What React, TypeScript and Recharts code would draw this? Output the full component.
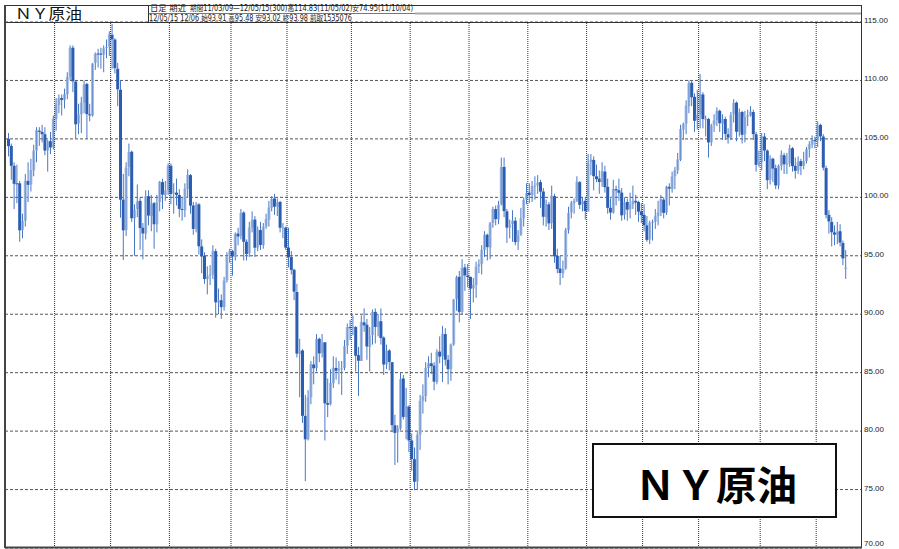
import React from "react";
import {
  ComposedChart,
  Bar,
  XAxis,
  YAxis,
  CartesianGrid,
  ReferenceLine,
} from "recharts";

// [day, open, high, low, close] per trading day
type Row = [number, number, number, number, number];

const mar2011: Row[] = [
  [9, 105.0, 105.5, 103.5, 104.38], [10, 104.4, 104.6, 101.5, 102.7], [11, 102.7, 103.0, 99.0, 101.16],
  [14, 101.2, 102.8, 99.5, 101.19], [15, 101.2, 101.4, 96.2, 97.18], [16, 97.2, 98.6, 96.5, 97.98],
  [17, 98.0, 102.0, 97.5, 101.42], [18, 101.4, 103.0, 99.6, 101.07], [21, 101.1, 103.3, 100.5, 102.33],
  [22, 102.3, 104.5, 101.8, 104.0], [23, 104.0, 106.0, 103.0, 105.75], [24, 105.7, 106.0, 104.4, 105.6],
  [25, 105.6, 106.2, 104.7, 105.4], [28, 105.4, 106.0, 103.6, 104.0], [29, 104.0, 104.9, 102.2, 104.79],
  [30, 104.8, 105.6, 103.7, 104.27], [31, 104.3, 107.0, 104.1, 106.72],
];
const apr2011: Row[] = [
  [1, 106.7, 108.5, 105.7, 107.94], [4, 107.9, 108.8, 107.2, 108.47], [5, 108.5, 108.8, 107.0, 108.34],
  [6, 108.3, 109.3, 107.6, 108.83], [7, 108.8, 110.7, 108.4, 110.3], [8, 110.3, 113.0, 110.0, 112.79],
  [11, 112.8, 113.0, 109.0, 109.92], [12, 109.9, 110.0, 105.0, 106.25], [13, 106.3, 108.0, 105.4, 107.11],
  [14, 107.1, 108.6, 105.5, 108.11], [15, 108.1, 110.0, 107.2, 109.66], [18, 109.7, 109.8, 105.0, 107.12],
  [19, 107.1, 108.0, 106.5, 107.03], [20, 107.0, 111.5, 106.9, 111.45], [21, 111.5, 112.4, 110.9, 112.29],
  [25, 112.3, 112.7, 111.1, 112.28], [26, 112.3, 112.8, 111.0, 112.21], [27, 112.2, 113.0, 110.7, 112.76],
  [28, 112.8, 113.5, 111.9, 112.86], [29, 112.9, 114.2, 112.1, 113.93],
];
const may2011: Row[] = [
  [2, 113.9, 114.83, 111.0, 113.52], [3, 113.5, 113.6, 110.6, 111.05], [4, 111.0, 111.5, 107.8, 109.24],
  [5, 109.2, 110.0, 98.25, 99.8], [6, 99.8, 102.0, 94.63, 97.18], [9, 97.2, 103.0, 96.7, 102.55],
  [10, 102.6, 104.6, 101.8, 103.88], [11, 103.9, 104.0, 97.9, 98.21], [12, 98.2, 99.4, 95.0, 98.97],
  [13, 99.0, 101.1, 98.3, 99.65], [16, 99.7, 100.0, 95.5, 97.37], [17, 97.4, 97.8, 94.7, 96.91],
  [18, 96.9, 100.6, 96.4, 100.1], [19, 100.1, 100.6, 97.6, 98.44], [20, 98.4, 100.2, 97.1, 99.49],
  [23, 99.5, 99.6, 95.6, 97.7], [24, 97.7, 100.2, 97.0, 99.59], [25, 99.6, 101.4, 98.8, 101.32],
  [26, 101.3, 101.6, 99.0, 100.23], [27, 100.2, 101.4, 99.7, 100.59], [31, 100.6, 102.9, 100.2, 102.7],
];
const jun2011: Row[] = [
  [1, 102.7, 102.9, 99.4, 100.29], [2, 100.3, 101.2, 98.6, 100.4], [3, 100.4, 101.6, 99.3, 100.22],
  [6, 100.2, 100.7, 98.3, 99.01], [7, 99.0, 100.0, 98.0, 98.94], [8, 98.9, 101.2, 98.3, 100.74],
  [9, 100.7, 102.4, 100.0, 101.93], [10, 101.9, 102.0, 98.6, 99.29], [13, 99.3, 99.6, 96.8, 97.3],
  [14, 97.3, 99.6, 97.0, 99.37], [15, 99.4, 99.5, 95.1, 95.81], [16, 95.8, 96.4, 93.5, 94.95],
  [17, 95.0, 95.3, 92.6, 93.01], [20, 93.0, 94.1, 91.7, 93.26], [21, 93.3, 94.2, 92.5, 93.4],
  [22, 93.4, 95.9, 93.0, 95.41], [23, 95.4, 95.6, 89.7, 91.02], [24, 91.0, 92.2, 90.0, 91.16],
  [27, 91.2, 91.7, 89.6, 90.61], [28, 90.6, 93.2, 90.3, 92.89], [29, 92.9, 95.3, 92.7, 94.96],
  [30, 95.0, 95.6, 94.4, 95.42],
];
const jul2011: Row[] = [
  [1, 95.4, 95.5, 93.3, 94.94], [5, 94.9, 97.0, 94.6, 96.89], [6, 96.9, 97.4, 95.9, 96.65],
  [7, 96.7, 99.0, 96.4, 98.67], [8, 98.7, 98.8, 94.6, 96.2], [11, 96.2, 96.4, 94.6, 95.15],
  [12, 95.2, 97.9, 94.9, 97.43], [13, 97.4, 98.8, 97.0, 98.05], [14, 98.1, 98.4, 94.9, 95.69],
  [15, 95.7, 97.5, 95.4, 97.24], [18, 97.2, 97.9, 95.5, 95.93], [19, 95.9, 97.8, 95.6, 97.5],
  [20, 97.5, 98.6, 97.3, 98.14], [21, 98.1, 99.7, 97.5, 99.13], [22, 99.1, 100.1, 98.8, 99.87],
  [25, 99.9, 100.3, 98.5, 99.2], [26, 99.2, 99.9, 98.4, 99.59], [27, 99.6, 99.7, 97.0, 97.4],
  [28, 97.4, 97.8, 96.5, 97.44], [29, 97.4, 97.5, 95.5, 95.7],
];
const aug2011: Row[] = [
  [1, 95.7, 97.4, 94.0, 94.89], [2, 94.9, 95.4, 93.4, 93.79], [3, 93.8, 93.9, 91.2, 91.93],
  [4, 91.9, 92.6, 86.3, 86.63], [5, 86.6, 87.9, 82.9, 86.88], [8, 86.9, 87.0, 80.7, 81.31],
  [9, 81.3, 83.1, 75.71, 79.3], [10, 79.3, 83.5, 79.2, 82.89], [11, 82.9, 86.0, 82.3, 85.72],
  [12, 85.7, 86.4, 84.0, 85.38], [15, 85.4, 88.3, 85.1, 87.88], [16, 87.9, 88.0, 85.9, 86.65],
  [17, 86.7, 88.3, 86.3, 87.58], [18, 87.6, 87.6, 79.2, 82.38], [19, 82.4, 84.5, 81.2, 82.26],
  [22, 82.3, 85.3, 82.2, 84.12], [23, 84.1, 86.4, 83.7, 85.44], [24, 85.4, 86.3, 84.4, 85.16],
  [25, 85.2, 86.0, 84.0, 85.3], [26, 85.3, 86.0, 83.1, 85.37], [29, 85.4, 87.8, 85.2, 87.27],
  [30, 87.3, 89.2, 86.6, 88.9], [31, 88.9, 89.5, 87.8, 88.81],
];
const sep2011: Row[] = [
  [1, 88.8, 89.9, 88.2, 88.93], [2, 88.9, 89.0, 85.1, 86.45], [6, 86.5, 87.2, 83.0, 86.02],
  [7, 86.0, 89.9, 86.0, 89.34], [8, 89.3, 90.5, 88.5, 89.05], [9, 89.1, 89.6, 86.1, 87.24],
  [12, 87.2, 88.9, 85.1, 88.19], [13, 88.2, 90.4, 87.4, 90.21], [14, 90.2, 90.5, 87.5, 88.91],
  [15, 88.9, 90.0, 88.1, 89.4], [16, 89.4, 90.5, 87.4, 87.96], [19, 88.0, 88.1, 84.8, 85.7],
  [20, 85.7, 87.4, 85.3, 86.89], [21, 86.9, 87.0, 85.2, 85.92], [22, 85.9, 85.9, 79.9, 80.51],
  [23, 80.5, 81.4, 77.1, 79.85], [26, 79.9, 80.5, 77.3, 80.24], [27, 80.2, 85.0, 80.1, 84.45],
  [28, 84.5, 84.8, 81.0, 81.21], [29, 81.2, 83.7, 79.3, 82.14], [30, 82.1, 82.2, 78.2, 79.2],
];
const oct2011: Row[] = [
  [3, 79.2, 79.8, 76.6, 77.61], [4, 77.6, 78.6, 74.95, 75.67], [5, 75.7, 79.9, 75.0, 79.68],
  [6, 79.7, 83.1, 78.4, 82.59], [7, 82.6, 84.0, 81.5, 82.98], [10, 83.0, 85.9, 82.5, 85.41],
  [11, 85.4, 86.4, 84.6, 85.81], [12, 85.8, 86.7, 84.9, 85.57], [13, 85.6, 85.9, 83.5, 84.23],
  [14, 84.2, 87.0, 84.0, 86.8], [17, 86.8, 88.1, 85.8, 86.38], [18, 86.4, 89.0, 84.2, 88.34],
  [19, 88.3, 88.8, 85.6, 86.11], [20, 86.1, 86.5, 84.0, 85.3], [21, 85.3, 87.5, 84.3, 87.4],
  [24, 87.4, 91.3, 87.3, 91.27], [25, 91.3, 93.3, 90.3, 93.17], [26, 93.2, 93.7, 89.3, 90.2],
  [27, 90.2, 94.7, 90.0, 93.96], [28, 94.0, 94.3, 92.0, 93.32], [31, 93.3, 94.3, 92.3, 93.19],
];
const nov2011: Row[] = [
  [1, 93.2, 93.2, 89.6, 92.19], [2, 92.2, 93.1, 91.0, 92.51], [3, 92.5, 94.5, 91.4, 94.07],
  [4, 94.1, 94.7, 93.5, 94.26], [7, 94.3, 95.9, 93.4, 95.52], [8, 95.5, 97.1, 94.9, 96.8],
  [9, 96.8, 96.9, 94.6, 95.74], [10, 95.7, 97.9, 94.7, 97.78], [11, 97.8, 99.2, 97.4, 98.99],
  [14, 99.0, 99.3, 97.6, 98.14], [15, 98.1, 99.7, 97.7, 99.37], [16, 99.4, 103.4, 99.3, 102.59],
  [17, 102.6, 103.4, 98.3, 98.82], [18, 98.8, 99.0, 96.1, 97.41], [21, 97.4, 98.1, 96.5, 97.67],
  [22, 97.7, 98.9, 96.2, 98.01], [23, 98.0, 98.3, 95.9, 96.17], [25, 96.2, 97.2, 95.5, 96.77],
  [28, 96.8, 99.1, 96.7, 98.21], [29, 98.2, 100.0, 97.5, 99.79], [30, 99.8, 101.2, 99.4, 100.36],
];
const dec2011: Row[] = [
  [1, 100.4, 101.2, 99.5, 100.2], [2, 100.2, 101.4, 99.6, 100.96], [5, 101.0, 101.8, 99.8, 101.0],
  [6, 101.0, 101.9, 100.3, 101.28], [7, 101.3, 101.5, 99.1, 100.49], [8, 100.5, 100.8, 97.6, 98.34],
  [9, 98.3, 99.8, 97.5, 99.41], [12, 99.4, 99.6, 97.2, 97.77], [13, 97.8, 101.0, 97.3, 100.14],
  [14, 100.1, 100.3, 94.4, 94.95], [15, 95.0, 95.6, 93.5, 93.87], [16, 93.9, 95.0, 92.5, 93.53],
  [19, 93.5, 94.6, 93.1, 93.88], [20, 93.9, 97.4, 93.8, 97.22], [21, 97.2, 99.2, 96.9, 98.67],
  [22, 98.7, 99.7, 98.2, 99.53], [23, 99.5, 99.9, 98.6, 99.68], [27, 99.7, 101.8, 99.6, 101.34],
  [28, 101.3, 101.4, 99.0, 99.36], [29, 99.4, 100.0, 98.8, 99.65], [30, 99.7, 100.0, 98.1, 98.83],
];
const jan2012: Row[] = [
  [3, 98.8, 103.7, 98.8, 102.96], [4, 103.0, 103.7, 101.9, 103.22], [5, 103.2, 103.5, 100.6, 101.81],
  [6, 101.8, 102.8, 101.3, 101.56], [9, 101.6, 102.3, 100.3, 101.31], [10, 101.3, 103.0, 100.9, 102.24],
  [11, 102.2, 102.7, 100.4, 100.87], [12, 100.9, 101.6, 98.6, 99.1], [13, 99.1, 99.9, 98.1, 98.7],
  [17, 98.7, 101.5, 98.6, 100.71], [18, 100.7, 101.0, 99.3, 100.59], [19, 100.6, 101.6, 99.7, 100.39],
  [20, 100.4, 100.8, 98.0, 98.46], [23, 98.5, 100.0, 98.1, 99.58], [24, 99.6, 99.9, 98.0, 98.95],
  [25, 99.0, 100.4, 98.2, 99.4], [26, 99.4, 101.0, 99.0, 99.7], [27, 99.7, 100.2, 98.5, 99.56],
  [30, 99.6, 99.7, 97.9, 98.78], [31, 98.8, 99.5, 97.8, 98.48],
];
const feb2012: Row[] = [
  [1, 98.5, 99.4, 97.1, 97.61], [2, 97.6, 98.4, 96.2, 96.36], [3, 96.4, 98.0, 96.0, 97.84],
  [6, 97.8, 98.1, 96.3, 97.91], [7, 97.9, 99.0, 97.3, 98.41], [8, 98.4, 99.7, 97.6, 98.7],
  [9, 98.7, 100.2, 98.4, 99.84], [10, 99.8, 100.0, 98.2, 98.67], [13, 98.7, 101.0, 98.5, 100.91],
  [14, 100.9, 101.2, 99.3, 100.74], [15, 100.7, 102.2, 100.4, 101.8], [16, 101.8, 102.6, 100.7, 102.31],
  [17, 102.3, 103.8, 102.0, 103.24], [21, 103.2, 106.2, 103.1, 105.84], [22, 105.8, 106.4, 104.9, 106.28],
  [23, 106.3, 108.3, 105.4, 107.83], [24, 107.8, 110.0, 107.2, 109.77], [27, 109.8, 110.0, 107.8, 108.56],
  [28, 108.6, 108.9, 105.6, 106.55], [29, 106.6, 109.2, 105.8, 107.07],
];
const mar2012: Row[] = [
  [1, 107.1, 110.55, 105.9, 108.84], [2, 108.8, 109.0, 105.9, 106.7], [5, 106.7, 107.0, 105.2, 106.72],
  [6, 106.7, 106.8, 103.4, 104.7], [7, 104.7, 106.3, 104.4, 106.16], [8, 106.2, 107.1, 105.6, 106.58],
  [9, 106.6, 107.7, 106.1, 107.4], [12, 107.4, 107.5, 105.6, 106.34], [13, 106.3, 107.1, 104.9, 106.71],
  [14, 106.7, 106.9, 104.9, 105.43], [15, 105.4, 105.9, 104.6, 105.11], [16, 105.1, 107.3, 104.9, 107.06],
  [19, 107.1, 108.4, 106.4, 108.09], [20, 108.1, 108.2, 104.8, 105.61], [21, 105.6, 107.6, 105.2, 107.27],
  [22, 107.3, 107.4, 104.6, 105.35], [23, 105.4, 107.4, 104.7, 106.87], [26, 106.9, 107.5, 106.1, 107.03],
  [27, 107.0, 107.8, 106.9, 107.33], [28, 107.3, 107.5, 104.9, 105.41], [29, 105.4, 105.6, 102.2, 102.78],
  [30, 102.8, 104.0, 102.6, 103.02],
];
const apr2012: Row[] = [
  [2, 103.0, 105.5, 102.3, 105.23], [3, 105.2, 105.5, 103.1, 104.01], [4, 104.0, 104.1, 100.7, 101.47],
  [5, 101.5, 103.6, 101.1, 103.31], [9, 103.3, 103.4, 101.3, 102.46], [10, 102.5, 102.8, 100.7, 101.02],
  [11, 101.0, 102.8, 100.7, 102.7], [12, 102.7, 104.0, 102.3, 103.64], [13, 103.6, 103.8, 102.0, 102.83],
  [16, 102.8, 103.8, 102.0, 102.93], [17, 102.9, 104.5, 102.6, 104.2], [18, 104.2, 104.3, 102.2, 102.67],
  [19, 102.7, 103.4, 101.6, 102.27], [20, 102.3, 103.5, 102.0, 103.05], [23, 103.1, 103.3, 101.9, 102.68],
  [24, 102.7, 103.9, 102.4, 103.11], [25, 103.1, 104.3, 102.9, 104.12], [26, 104.1, 104.8, 103.4, 104.55],
  [27, 104.5, 105.3, 104.2, 104.93], [30, 104.9, 105.2, 104.2, 104.87],
];
const may2012: Row[] = [
  [1, 104.9, 106.5, 104.3, 106.16], [2, 106.2, 106.3, 104.8, 105.22], [3, 105.2, 105.4, 102.3, 102.54],
  [4, 102.5, 102.7, 98.2, 98.49], [7, 98.5, 98.9, 96.9, 97.94], [8, 97.9, 98.3, 95.8, 97.01],
  [9, 97.0, 97.6, 95.9, 96.81], [10, 96.8, 97.9, 96.0, 97.08], [11, 97.1, 97.7, 95.8, 96.13],
  [14, 96.1, 96.3, 94.2, 94.78], [15, 93.91, 95.48, 93.02, 93.98],
];

const months: [string, Row[]][] = [
  ["11/03", mar2011], ["11/04", apr2011], ["11/05", may2011], ["11/06", jun2011],
  ["11/07", jul2011], ["11/08", aug2011], ["11/09", sep2011], ["11/10", oct2011],
  ["11/11", nov2011], ["11/12", dec2011], ["12/01", jan2012], ["12/02", feb2012],
  ["12/03", mar2012], ["12/04", apr2012], ["12/05", may2012],
];

const priceTicks = [70, 75, 80, 85, 90, 95, 100, 105, 110, 115];

const pad = (d: number) => String(d).padStart(2, "0");

const candles = months.flatMap(([ym, rows]) =>
  rows.map(([d, o, h, l, c]) => ({ date: `${ym}/${pad(d)}`, o, h, l, c, range: [l, h] }))
);

// first trading day of every month after the first -> dotted month separators
const monthStarts = months.slice(1).map(([ym, rows]) => `${ym}/${pad(rows[0][0])}`);

function Candle(props: any) {
  const { x, y, width, height, payload } = props;
  if (!payload || x == null || y == null) return null;
  const { o, h, l, c } = payload;
  const top = Math.min(y, y + height);
  const hh = Math.abs(height);
  const k = h > l ? hh / (h - l) : 0;
  const cx = x + width / 2;
  const yo = top + (h - o) * k;
  const yc = top + (h - c) * k;
  const bTop = Math.min(yo, yc);
  const bH = Math.max(Math.abs(yc - yo), 1);
  const up = c >= o;
  return (
    <g>
      <line x1={cx} x2={cx} y1={top} y2={top + hh} stroke="#4a78c4" strokeWidth={1} />
      <rect x={cx - 1.5} y={bTop} width={3} height={bH} fill={up ? "#a6bde4" : "#2b5db2"} />
      {up && <line x1={cx} x2={cx} y1={bTop} y2={bTop + bH} stroke="#5a86cc" strokeWidth={0.8} />}
    </g>
  );
}

function PriceTick({ x, y, payload }: any) {
  const v = Number(payload.value);
  return (
    <text x={x} y={v === 70 ? y - 2 : y + 1} fontSize={8} fontFamily="'Liberation Sans', Arial, sans-serif" fill="#222">
      {v.toFixed(2)}
    </text>
  );
}

const cjk = "'Noto Sans CJK JP', 'Noto Sans', sans-serif";
const small = "'DejaVu Sans', 'Noto Sans CJK JP', sans-serif";

export default function App() {
  return (
    <div style={{ position: "absolute", left: 0, top: 0, width: 899, height: 549, background: "#fff" }}>
      <ComposedChart
        width={899}
        height={549}
        data={candles}
        margin={{ top: 22, right: 0, bottom: 1, left: 5 }}
        barCategoryGap={0}
        barGap={0}
      >
        <CartesianGrid vertical={false} stroke="#555" strokeDasharray="3 2" />
        <XAxis dataKey="date" hide padding={{ left: 2, right: 14 }} />
        <YAxis
          orientation="right"
          domain={[70, 115]}
          ticks={priceTicks}
          interval={0}
          width={38}
          axisLine={false}
          tickLine={false}
          tickSize={0}
          tickMargin={3}
          tick={<PriceTick />}
          allowDataOverflow
        />
        {monthStarts.map((d) => (
          <ReferenceLine key={d} x={d} position="start" stroke="#333" strokeDasharray="1 1" />
        ))}
        <Bar dataKey="range" shape={Candle} isAnimationActive={false} />
      </ComposedChart>

      <svg width={899} height={549} style={{ position: "absolute", left: 0, top: 0, pointerEvents: "none" }}>
        {/* header */}
        <line x1={5} x2={861} y1={5.5} y2={5.5} stroke="#333" />
        <line x1={148} x2={415} y1={13.5} y2={13.5} stroke="#777" />
        <line x1={415} x2={861} y1={13.5} y2={13.5} stroke="#aaa" strokeWidth={2} />
        <line x1={5} x2={861} y1={22.5} y2={22.5} stroke="#333" />
        <line x1={148.5} x2={148.5} y1={5} y2={22} stroke="#333" />
        <text x={15} y={19} fontSize={15} fontFamily={cjk} fill="#111" textLength={67} lengthAdjust="spacingAndGlyphs">
          ＮＹ原油
        </text>
        <text x={150} y={11} fontSize={8.5} fontFamily={small} fill="#222" textLength={36} lengthAdjust="spacingAndGlyphs">
          日足 期近
        </text>
        <text x={190} y={11} fontSize={8} fontFamily={small} fill="#222" textLength={223} lengthAdjust="spacingAndGlyphs">
          期間11/03/09—12/05/15(300)高114.83(11/05/02)安74.95(11/10/04)
        </text>
        <text x={149} y={21} fontSize={8} fontFamily={small} fill="#222" textLength={203} lengthAdjust="spacingAndGlyphs">
          12/05/15 12/06 始93.91 高95.48 安93.02 終93.98 前取1535076
        </text>
        {/* frame */}
        <line x1={5} x2={5} y1={5} y2={548} stroke="#444" strokeWidth={2} />
        <line x1={861.5} x2={861.5} y1={5} y2={548} stroke="#333" />
        <line x1={5} x2={862} y1={547.5} y2={547.5} stroke="#444" strokeWidth={2} />
        {/* title box */}
        <rect x={593} y={444} width={243} height={73} fill="#fff" stroke="#111" strokeWidth={2} />
        <text x={635} y={500} fontSize={40} fontWeight="bold" fontFamily={cjk} fill="#000" textLength={162} lengthAdjust="spacingAndGlyphs">
          ＮＹ原油
        </text>
      </svg>
    </div>
  );
}
